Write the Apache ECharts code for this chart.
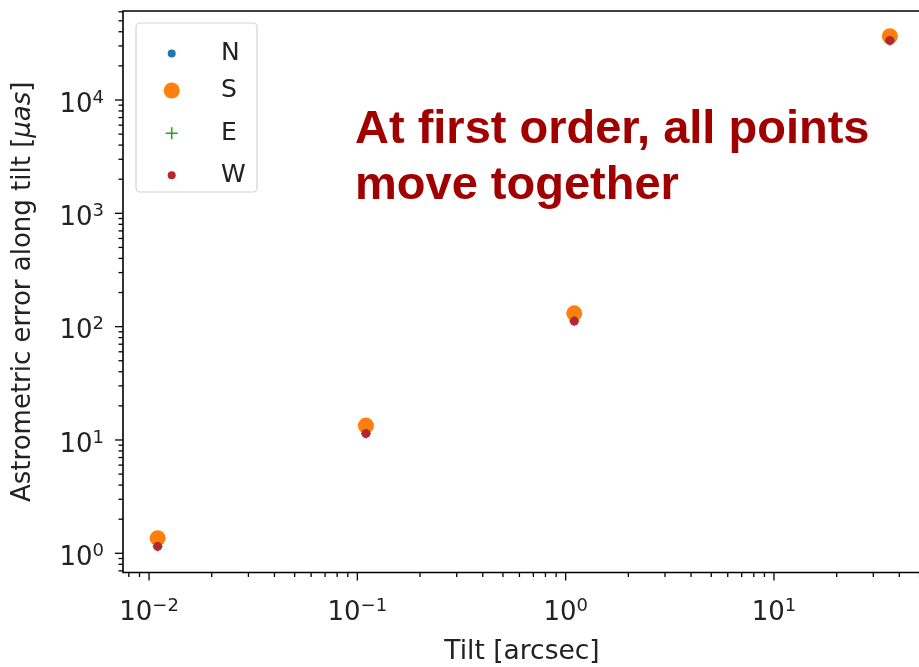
<!DOCTYPE html>
<html>
<head>
<meta charset="utf-8">
<title>Astrometric error along tilt</title>
<script src="https://cdn.jsdelivr.net/npm/echarts@6/dist/echarts.min.js"></script>
<style>
  html, body { margin: 0; padding: 0; background: #fff; }
  #chart { width: 919px; height: 667px; }
</style>
</head>
<body>
<div id="chart"></div>
<script>
// Tilt values [arcsec] and astrometric error [µas] for the four edge points
const tilts = [0.011, 0.11, 1.1, 36];
const errN = [1.30, 12.9, 126, 35800];
const errS = [1.36, 13.4, 131, 36500];
const errE = [1.15, 11.4, 112, 33500];
const errW = [1.15, 11.4, 112, 33500];
const seriesNames = ['N', 'S', 'E', 'W'];

// Axis ranges
const X_MIN = 0.0075, X_MAX = 50.8;
const Y_MIN = 0.677, Y_MAX = 61000;

// Decades used for major / minor tick marks
const xDecades = [-3, -2, -1, 0, 1];
const yDecades = [-1, 0, 1, 2, 3, 4];
const minorMultipliers = [2, 3, 4, 5, 6, 7, 8, 9];

function decadeTicks(decades, lo, hi) {
  const major = [], minor = [];
  decades.forEach(d => {
    const base = Math.pow(10, d);
    if (base >= lo && base <= hi) major.push(base);
    minorMultipliers.forEach(m => {
      const v = Number((m * base).toPrecision(6));
      if (v >= lo && v <= hi) minor.push(v);
    });
  });
  return { major, minor };
}
const xTicks = decadeTicks(xDecades, X_MIN, X_MAX);
const yTicks = decadeTicks(yDecades, Y_MIN, Y_MAX);

const FONT = '"DejaVu Sans", sans-serif';
const COLORS = { N: '#1f77b4', S: '#ff7f0e', E: '#2ca02c', W: '#b5272e' };
const PLUS = 'path://M5.2,0H6.8V5.2H12V6.8H6.8V12H5.2V6.8H0V5.2H5.2Z';

function powLabel(v) {
  const l = Math.log10(v);
  const e = Math.round(l);
  if (Math.abs(l - e) > 1e-6) return '';
  const exp = e < 0 ? '\u2212' + (-e) : String(e);
  return '{b|10}{s|' + exp + '}';
}
const powRich = {
  b: { fontSize: 26, lineHeight: 32, fontFamily: FONT, color: '#222' },
  s: { fontSize: 18, lineHeight: 14, fontFamily: FONT, color: '#222', verticalAlign: 'top' }
};

// Tick marks drawn through the axis scales
function xTickSeries(values, len) {
  return {
    type: 'custom', silent: true, clip: false, z: 4,
    data: values.map(v => [v, Y_MIN]),
    renderItem: (params, api) => {
      const p = api.coord([api.value(0), api.value(1)]);
      return { type: 'line', shape: { x1: p[0], y1: p[1], x2: p[0], y2: p[1] + len },
               style: { stroke: '#000', lineWidth: 1.3 } };
    }
  };
}
function yTickSeries(values, len) {
  return {
    type: 'custom', silent: true, clip: false, z: 4,
    data: values.map(v => [X_MIN, v]),
    renderItem: (params, api) => {
      const p = api.coord([api.value(0), api.value(1)]);
      return { type: 'line', shape: { x1: p[0] - len, y1: p[1], x2: p[0], y2: p[1] },
               style: { stroke: '#000', lineWidth: 1.3 } };
    }
  };
}

function pts(ys) { return tilts.map((t, i) => [t, ys[i]]); }

const chart = echarts.init(document.getElementById('chart'), null, { renderer: 'canvas' });

function legendItem(name, cx, cy, size, icon) {
  return {
    data: [name], icon: icon, orient: 'vertical', padding: 0,
    left: cx - size / 2, top: cy - size / 2,
    itemWidth: size, itemHeight: size, z: 6, selectedMode: false,
    textStyle: { fontFamily: FONT, fontSize: 25, color: '#222',
                 padding: [0, 0, 0, 221 - (cx - size / 2) - size - 5] }
  };
}

chart.setOption({
  animation: false,
  backgroundColor: '#fff',
  grid: { left: 123, top: 11, right: -2, bottom: 94.5, show: true,
          containLabel: false, outerBoundsMode: 'none',
          borderColor: '#000', borderWidth: 1.6, backgroundColor: 'transparent' },
  xAxis: {
    type: 'log', logBase: 10, min: X_MIN, max: X_MAX,
    name: 'Tilt [arcsec]', nameLocation: 'middle', nameGap: 66,
    nameTextStyle: { fontFamily: FONT, fontSize: 26.5, color: '#222', lineHeight: 28 },
    axisLine: { show: false }, axisTick: { show: false }, splitLine: { show: false },
    axisLabel: { interval: 0, margin: 25, formatter: powLabel, rich: powRich }
  },
  yAxis: {
    type: 'log', logBase: 10, min: Y_MIN, max: Y_MAX,
    name: 'Astrometric error along tilt [{i|μas}]', nameLocation: 'middle', nameGap: 86,
    nameTextStyle: { fontFamily: FONT, fontSize: 26, color: '#222', lineHeight: 28,
                     rich: { i: { fontFamily: FONT, fontSize: 26, fontStyle: 'italic', color: '#222' } } },
    axisLine: { show: false }, axisTick: { show: false }, splitLine: { show: false },
    axisLabel: { interval: 0, margin: 19, padding: [10, 0, 0, 0], formatter: powLabel, rich: powRich }
  },
  legend: [
    legendItem('N', 171.7, 45, 8, 'circle'),
    legendItem('S', 171.7, 86, 16, 'circle'),
    legendItem('E', 171.7, 126.7, 12, PLUS),
    legendItem('W', 171.7, 166.7, 8, 'circle')
  ],
  graphic: [
    { type: 'rect', z: 5, shape: { x: 136, y: 23, width: 121, height: 169, r: 4 },
      style: { fill: '#fff', stroke: '#d4d4d4', lineWidth: 1.2 } },
    { type: 'text', z: 10, left: 355, top: 102,
      style: { text: 'At first order, all points\nmove together',
               font: 'bold 47px "Liberation Sans", Arial, sans-serif',
               lineHeight: 56, fill: '#a00000' } }
  ],
  series: [
    { name: 'N', type: 'scatter', data: pts(errN), symbol: 'circle', symbolSize: 8,
      itemStyle: { color: COLORS.N, opacity: 1 }, z: 2 },
    { name: 'S', type: 'scatter', data: pts(errS), symbol: 'circle', symbolSize: 16,
      itemStyle: { color: COLORS.S, opacity: 1 }, z: 2 },
    { name: 'E', type: 'scatter', data: pts(errE), symbol: PLUS, symbolSize: 10,
      itemStyle: { color: COLORS.E, opacity: 1 }, z: 2 },
    { name: 'W', type: 'scatter', data: pts(errW), symbol: 'circle', symbolSize: 9,
      itemStyle: { color: COLORS.W, opacity: 1 }, z: 2 },
    xTickSeries(xTicks.major, 8),
    xTickSeries(xTicks.minor, 4.5),
    yTickSeries(yTicks.major, 8),
    yTickSeries(yTicks.minor, 4.5)
  ]
});
</script>
</body>
</html>
